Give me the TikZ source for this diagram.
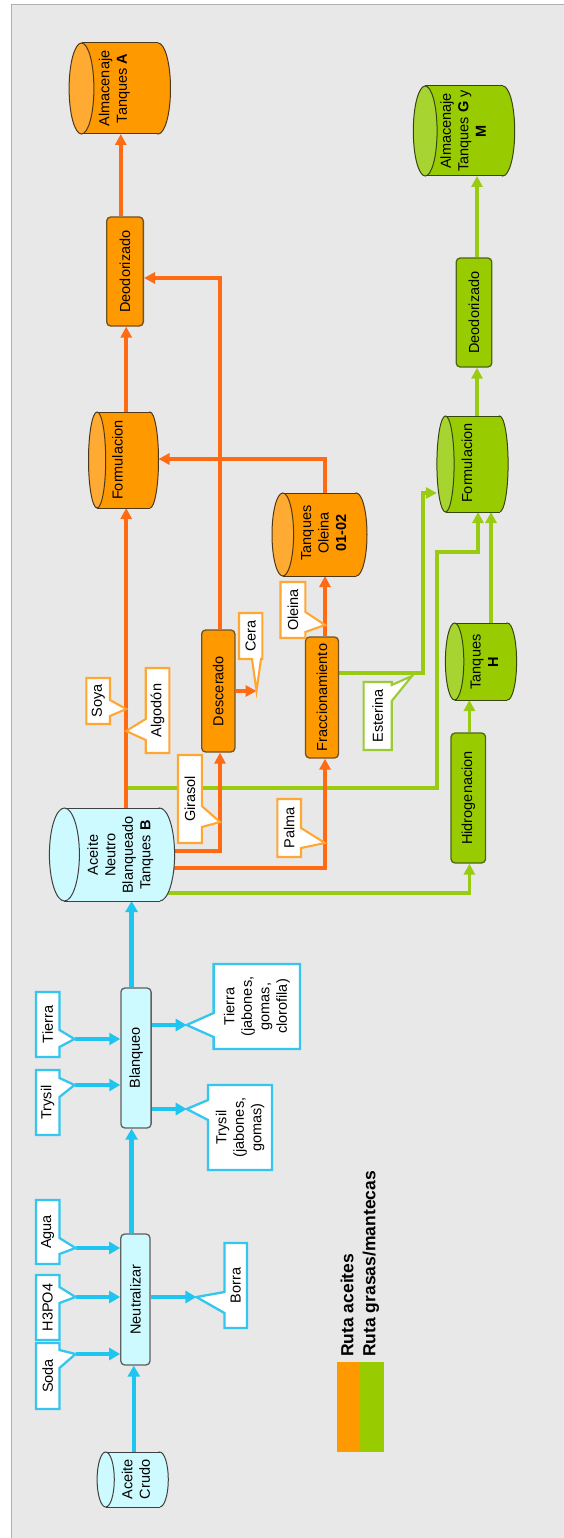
\documentclass[tikz,border=0pt]{standalone}
\usepackage{fontspec}
\setmainfont{Liberation Sans}
\usetikzlibrary{arrows.meta}
\definecolor{bgc}{HTML}{E8E8E8}
\definecolor{framec}{HTML}{B0B0B0}
\definecolor{olinec}{HTML}{FF6A13}
\definecolor{ofillc}{HTML}{FF9900}
\definecolor{oendc}{HTML}{FFAA33}
\definecolor{oborderc}{HTML}{6E5224}
\definecolor{ocallc}{HTML}{FFA733}
\definecolor{glinec}{HTML}{99CC11}
\definecolor{gfillc}{HTML}{99CC00}
\definecolor{gendc}{HTML}{A8D432}
\definecolor{gborderc}{HTML}{4D6614}
\definecolor{gcallc}{HTML}{99CC33}
\definecolor{clinec}{HTML}{1EC5F0}
\definecolor{cfillc}{HTML}{CCFAFF}
\definecolor{cborderc}{HTML}{606060}
\definecolor{ccallc}{HTML}{33C6EE}
\pgfdeclarelayer{bgl}
\pgfdeclarelayer{lines}
\pgfsetlayers{bgl,lines,main}
% cylinder: name, cx, cy, half width, half height, rx, body, end, border
\newcommand\cylshape[9]{%
  \path[fill=#7,draw=#9,line width=1pt] ({#2+#4-#6},#3) ellipse [x radius=#6pt, y radius=#5pt];
  \fill[#7] ({#2-#4+#6},{#3-#5}) rectangle ({#2+#4-#6},{#3+#5});
  \draw[#9,line width=1pt] ({#2-#4+#6},{#3-#5}) -- ({#2+#4-#6},{#3-#5}) ({#2-#4+#6},{#3+#5}) -- ({#2+#4-#6},{#3+#5});
  \path[fill=#8,draw=#9,line width=1pt] ({#2-#4+#6},#3) ellipse [x radius=#6pt, y radius=#5pt];
  \node[inner sep=0pt,outer sep=0pt,minimum width={2*#4*1pt},minimum height={2*#5*1pt}] (#1) at (#2,#3) {};}
% callouts: x1,y1,x2,y2,b1,b2,tip,style
\newcommand\calloutR[8]{\draw[#8] (#1,#2) -- (#3,#2) -- (#3,#5) -- (#7) -- (#3,#6) -- (#3,#4) -- (#1,#4) -- cycle;}
\newcommand\calloutL[8]{\draw[#8] (#1,#2) -- (#3,#2) -- (#3,#4) -- (#1,#4) -- (#1,#6) -- (#7) -- (#1,#5) -- cycle;}
\begin{document}
\begin{tikzpicture}[x=1pt,y=-1pt,
  txt/.style={rotate=90,align=center,inner sep=0pt,font=\fontsize{14.5}{17.5}\selectfont},
  obox/.style={draw=oborderc,fill=ofillc,rounded corners=4pt,line width=1.3pt,inner sep=0pt,font=\fontsize{14.5}{17.5}\selectfont},
  gbox/.style={draw=gborderc,fill=gfillc,rounded corners=4pt,line width=1.3pt,inner sep=0pt,font=\fontsize{14.5}{17.5}\selectfont},
  cbox/.style={draw=cborderc,fill=cfillc,rounded corners=4pt,line width=1.3pt,inner sep=0pt,font=\fontsize{14.5}{17.5}\selectfont},
  oarr/.style={draw=olinec,line width=3.8pt,-{Triangle[length=11pt,width=11pt]}},
  garr/.style={draw=glinec,line width=3.4pt,-{Triangle[length=11pt,width=11pt]}},
  carr/.style={draw=clinec,line width=4.3pt,-{Triangle[length=11pt,width=12pt]}},
  ccallst/.style={draw=ccallc,fill=white,line width=2.3pt},
  ocallst/.style={draw=ocallc,fill=white,line width=2.1pt},
  gcallst/.style={draw=gcallc,fill=white,line width=2.1pt}]
\useasboundingbox (0,0) rectangle (564,1538);
\begin{pgfonlayer}{bgl}
  \fill[white] (0,0) rectangle (564,1538);
  \fill[bgc] (11,5) rectangle (564,1538);
  \draw[framec,line width=1pt] (11,1538) -- (11,5) -- (564,5);
\end{pgfonlayer}

% ---------- cylinders ----------
\cylshape{almA}{119.8}{88.5}{50.7}{45.5}{12.4}{ofillc}{oendc}{oborderc!70!black}
\node[txt] (almAt) at (114.4,88.5) {Almacenaje\\Tanques \textbf{A}};
\cylshape{almG}{464}{131}{50.7}{45}{11.9}{gfillc}{gendc}{gborderc!70!black}
\node[txt] (almGt) at (463,131) {Almacenaje\\Tanques \textbf{G} y\\\textbf{M}};
\cylshape{formA}{123.5}{460}{35}{48}{8.6}{ofillc}{oendc}{oborderc!70!black}
\node[txt] (formAt) at (117.5,460) {Formulacion};
\cylshape{formG}{472.5}{464}{35.6}{48}{8.6}{gfillc}{gendc}{gborderc!70!black}
\node[txt] (formGt) at (467,463) {Formulacion};
\cylshape{oleina}{319.5}{534.5}{47.5}{41.5}{10.8}{ofillc}{oendc}{oborderc!70!black}
\node[txt] (oleinat) at (323.7,533) {Tanques\\Oleina\\\textbf{01-02}};
\cylshape{tanH}{481}{661.5}{35.6}{38.5}{9.2}{gfillc}{gendc}{gborderc!70!black}
\node[txt] (tanHt) at (484.5,662) {Tanques\\\textbf{H}};
\cylshape{aceN}{112}{854.5}{62.6}{46.5}{15}{cfillc}{cfillc}{black!75}
\node[txt] (aceNt) at (120.3,855) {Aceite\\Neutro\\Blanqueado\\Tanques \textbf{B}};
\cylshape{crudo}{132.7}{1479.5}{35.6}{27.5}{8.6}{cfillc}{cfillc}{black!75}
\node[txt] (crudot) at (136,1479.5) {Aceite\\Crudo};

% ---------- boxes ----------
\node[obox,minimum width=36.7pt,minimum height=109pt] (deoA) at (125,271.5) {\rotatebox{90}{Deodorizado}};
\node[gbox,minimum width=35.6pt,minimum height=109pt] (deoG) at (474,312.5) {\rotatebox{90}{Deodorizado}};
\node[obox,minimum width=33.3pt,minimum height=122pt] (desc) at (218.3,691) {\rotatebox{90}{Descerado}};
\node[obox,minimum width=33pt,minimum height=121pt] (frac) at (322,697.5) {\rotatebox{90}{Fraccionamiento}};
\node[gbox,minimum width=34.5pt,minimum height=130pt] (hidro) at (468.3,798) {\rotatebox{90}{Hidrogenacion}};
\node[cbox,minimum width=30.2pt,minimum height=140pt] (blanq) at (136,1058) {\rotatebox{90}{Blanqueo}};
\node[cbox,minimum width=29.2pt,minimum height=131pt] (neut) at (135.4,1299.5) {\rotatebox{90}{Neutralizar}};

% ---------- guide coordinates and callout tips ----------
\coordinate (xo1) at (126.2,0);
\coordinate (xo2) at (220,0);
\coordinate (xo3) at (325,0);
\coordinate (xo4) at (120.8,0);
\coordinate (yo1) at (0,851);
\coordinate (yo2) at (0,868);
\coordinate (yo3) at (0,278);
\coordinate (yo4) at (0,459);
\coordinate (xc1) at (133.8,0);
\coordinate (xc2) at (131.6,0);
\coordinate (gstart) at (126.2,788);
\coordinate (gA) at (437,552);
\coordinate (gB) at (423,493);
\coordinate (xg2) at (478,0);
\coordinate (xg3) at (469.4,0);
\coordinate (xg4) at (491,0);
\coordinate (xg6) at (477,0);
\coordinate (yg3) at (0,893);
\coordinate (yg4) at (0,673);
\coordinate (sodaT) at (75.5,1354);
\coordinate (h3T) at (75.5,1297);
\coordinate (aguaT) at (75.5,1248);
\coordinate (trysT) at (74.5,1085);
\coordinate (tierT) at (74.5,1039);
\coordinate (borraT) at (196.4,1297);
\coordinate (trysOT) at (186.7,1109);
\coordinate (tierOT) at (186.7,1025);
\coordinate (soyaT) at (126.2,709);
\coordinate (algT) at (126.2,731);
\coordinate (giraT) at (220,822);
\coordinate (palmaT) at (325,843);
\coordinate (oleT) at (325,625);
\coordinate (ceraT) at (256.5,691);
\coordinate (estT) at (412,676);

% ---------- connectors ----------
\begin{pgfonlayer}{lines}
  % cyan
  \draw[carr] (crudo.north -| xc1) -- (neut.south -| xc1);
  \draw[carr] (sodaT) -- (sodaT -| neut.west);
  \draw[carr] (h3T) -- (h3T -| neut.west);
  \draw[carr] (aguaT) -- (aguaT -| neut.west);
  \draw[carr] (borraT -| neut.east) -- (borraT);
  \draw[carr] (neut.north -| xc2) -- (blanq.south -| xc2);
  \draw[carr] (trysT) -- (trysT -| blanq.west);
  \draw[carr] (tierT) -- (tierT -| blanq.west);
  \draw[carr] (trysOT -| blanq.east) -- (trysOT);
  \draw[carr] (tierOT -| blanq.east) -- (tierOT);
  \draw[carr] (blanq.north -| xc2) -- (aceN.south -| xc2);
  % green
  \draw[garr] (gstart) -| (gA) -| (formG.south -| xg2);
  \draw[garr] (aceN |- yg3) -| (hidro.south -| xg3);
  \draw[garr] (hidro.north -| xg3) -- (tanH.south -| xg3);
  \draw[garr] (tanH.north -| xg4) -- (formG.south -| xg4);
  \draw[garr] (frac |- yg4) -| (gB) -- (formG.west |- gB);
  \draw[garr] (formG.north -| xg6) -- (deoG.south -| xg6);
  \draw[garr] (deoG.north -| xg6) -- (almG.south -| xg6);
  % orange
  \draw[oarr] (aceN.north -| xo1) -- (formA.south -| xo1);
  \draw[oarr] (aceN |- yo1) -| (desc.south -| xo2);
  \draw[oarr] (aceN |- yo2) -| (frac.south -| xo3);
  \draw[oarr] (desc.east |- ceraT) -- (ceraT);
  \draw[oarr] (desc.north -| xo2) |- (deoA.east |- yo3);
  \draw[oarr] (frac.north -| xo3) -- (oleina.south -| xo3);
  \draw[oarr] (oleina.north -| xo3) |- (formA.east |- yo4);
  \draw[oarr] (formA.north -| xo1) -- (deoA.south -| xo1);
  \draw[oarr] (deoA.north -| xo4) -- (almA.south -| xo4);
\end{pgfonlayer}

% ---------- callouts ----------
\calloutR{36}{1343}{59.5}{1409}{1350}{1368}{sodaT}{ccallst}
\node[txt] (sodaL) at (47.75,1376) {Soda};
\calloutR{36}{1275}{59.5}{1340}{1287}{1303}{h3T}{ccallst}
\node[txt] (h3L) at (47.75,1307.5) {H3PO4};
\calloutR{36}{1200}{59.5}{1264}{1238}{1254}{aguaT}{ccallst}
\node[txt] (aguaL) at (47.75,1232) {Agua};
\calloutR{36}{1070}{59.5}{1135}{1078}{1097}{trysT}{ccallst}
\node[txt] (trysL) at (47.75,1102.5) {Trysil};
\calloutR{36}{992}{59.5}{1057}{1030}{1047}{tierT}{ccallst}
\node[txt] (tierL) at (47.75,1024.5) {Tierra};
\calloutL{224.4}{1243}{247}{1328}{1292}{1313}{borraT}{ccallst}
\node[txt] (borraL) at (235.7,1285.5) {Borra};
\calloutL{208}{1085}{272}{1170}{1100}{1120}{trysOT}{ccallst}
\node[txt] (trysOL) at (240,1127.5) {Trysil\\(jabones,\\gomas)};
\calloutL{213.6}{964}{300}{1049}{1013}{1037}{tierOT}{ccallst}
\node[txt] (tierOL) at (256.8,1006.5) {Tierra\\(jabones,\\gomas,\\clorofila)};
\calloutR{86.3}{678}{110}{724}{700}{716}{soyaT}{ocallst}
\node[txt] (soyaL) at (98.2,701) {Soya};
\calloutL{145.7}{668}{169.4}{753}{719}{740}{algT}{ocallst}
\node[txt] (algL) at (157.5,710.5) {Algodón};
\calloutR{178}{755}{201.8}{843}{806}{827}{giraT}{ocallst}
\node[txt] (giraL) at (189.9,799) {Girasol};
\calloutR{277.3}{799}{301}{857}{828}{848}{palmaT}{ocallst}
\node[txt] (palmaL) at (289.2,828) {Palma};
\calloutR{280.5}{582}{305.4}{638}{612}{632}{oleT}{ocallst}
\node[txt] (oleL) at (293,610) {Oleina};
\draw[ocallst] (239,613) -- (262.3,613) -- (262.3,659) -- (261,659) -- (ceraT) -- (252,659) -- (239,659) -- cycle;
\node[txt] (ceraL) at (250.7,636) {Cera};
\calloutR{363.6}{682}{391.7}{750}{685}{701}{estT}{gcallst}
\node[txt] (estL) at (377.7,716) {Esterina};

% ---------- legend ----------
\fill[ofillc] (336.6,1362) rectangle (360.4,1452);
\fill[gfillc] (360.4,1362) rectangle (384,1452);
\node[rotate=90,anchor=west,inner sep=0pt,font=\bfseries\fontsize{17.5}{20}\selectfont] (leg1) at (347,1357) {Ruta aceites};
\node[rotate=90,anchor=west,inner sep=0pt,font=\bfseries\fontsize{17.5}{20}\selectfont] (leg2) at (371,1357) {Ruta grasas/mantecas};
\end{tikzpicture}
\end{document}
